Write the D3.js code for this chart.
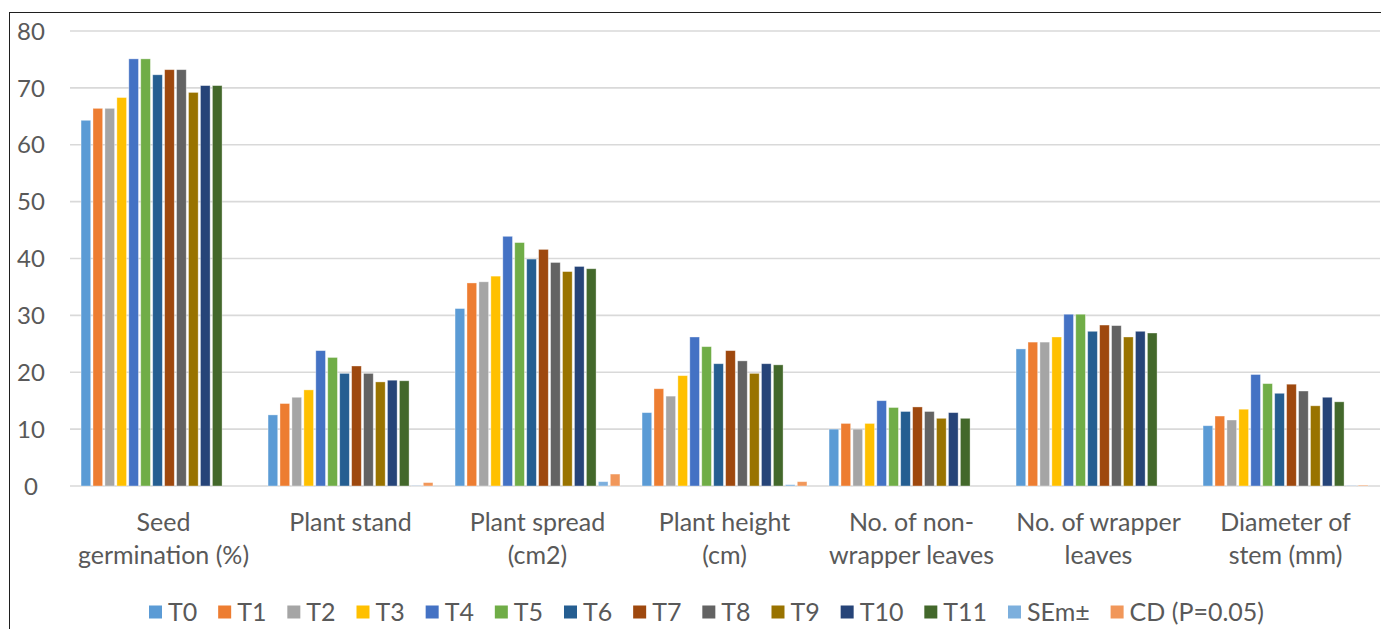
<!DOCTYPE html>
<html><head><meta charset="utf-8">
<script src="https://cdn.jsdelivr.net/npm/d3@7"></script>
<style>html,body{margin:0;padding:0;background:#fff;overflow:hidden}</style>
</head><body>
<svg id="chart" width="1381" height="629"></svg>
<script>
const categories = ["Seed germination (%)","Plant stand","Plant spread (cm2)","Plant height (cm)","No. of non-wrapper leaves","No. of wrapper leaves","Diameter of stem (mm)"];
const categoryLines = [["Seed","germination (%)"],["Plant stand"],["Plant spread","(cm2)"],["Plant height","(cm)"],["No. of non-","wrapper leaves"],["No. of wrapper","leaves"],["Diameter of","stem (mm)"]];
const seriesNames = ["T0","T1","T2","T3","T4","T5","T6","T7","T8","T9","T10","T11","SEm±","CD (P=0.05)"];
const seriesColors = ["#5B9BD5","#ED7D31","#A5A5A5","#FFC000","#4472C4","#70AD47","#255E91","#9E480E","#636363","#997300","#264478","#43682B","#7CAFDD","#F1975A"];
const T0  = [64.3,12.5,31.2,12.9,10.0,24.1,10.6];
const T1  = [66.4,14.5,35.7,17.1,11.0,25.3,12.3];
const T2  = [66.4,15.6,35.9,15.8,10.0,25.3,11.6];
const T3  = [68.3,16.9,36.9,19.4,11.0,26.2,13.5];
const T4  = [75.1,23.8,43.9,26.2,15.0,30.2,19.6];
const T5  = [75.1,22.6,42.8,24.5,13.8,30.2,18.0];
const T6  = [72.3,19.8,39.9,21.5,13.1,27.2,16.3];
const T7  = [73.2,21.1,41.6,23.8,13.9,28.3,17.9];
const T8  = [73.2,19.8,39.3,22.0,13.1,28.2,16.7];
const T9  = [69.2,18.3,37.7,19.8,11.9,26.2,14.1];
const T10 = [70.4,18.6,38.6,21.5,12.9,27.2,15.6];
const T11 = [70.4,18.5,38.2,21.3,11.9,26.9,14.8];
const SEm = [0,0.05,0.76,0.23,0,0,0.05];
const CD  = [0,0.6,2.1,0.76,0,0,0.15];
const seriesValues = [T0,T1,T2,T3,T4,T5,T6,T7,T8,T9,T10,T11,SEm,CD];
const yTicks = [0,10,20,30,40,50,60,70,80];

const FONT = "Lato, 'Open Sans', sans-serif";
const TXT = "#595959";
const svg = d3.select("#chart");

// frame
svg.append("rect").attr("x",9.5).attr("y",12.5).attr("width",1500).attr("height",800)
  .attr("fill","none").attr("stroke","#1f1f1f").attr("stroke-width",1);

const plotL = 70, plotR = 1379, plotT = 31, plotB = 486;
const y = d3.scaleLinear().domain([0,80]).range([plotB, plotT]);
const x0 = d3.scaleBand().domain(categories).range([plotL,plotR]).padding(0);
const bw = x0.bandwidth();
const x1 = d3.scaleBand().domain(seriesNames).range([bw*0.053, bw*0.947]).paddingInner(0.19).paddingOuter(0.095);

// gridlines
svg.append("g").selectAll("line").data(yTicks).join("line")
  .attr("x1",plotL).attr("x2",plotR+1)
  .attr("y1",d=>y(d)).attr("y2",d=>y(d))
  .attr("stroke","#d9d9d9").attr("stroke-width",1.6);

// y labels
svg.append("g").selectAll("text").data(yTicks).join("text")
  .attr("x",31).attr("y",d=>y(d)).attr("dy","0.36em")
  .attr("text-anchor","middle").attr("font-family",FONT).attr("font-size",24)
  .attr("fill",TXT).text(d=>d);

// bars
const groups = svg.append("g").selectAll("g").data(categories).join("g")
  .attr("transform",d=>`translate(${x0(d)},0)`);
groups.selectAll("rect").data((c,ci)=>seriesNames.map((s,si)=>({s,si,v:seriesValues[si][ci]})).filter(d=>d.v>0))
  .join("rect")
  .attr("x",d=>x1(d.s)).attr("width",x1.bandwidth())
  .attr("y",d=>y(d.v)).attr("height",d=>plotB-y(d.v))
  .attr("fill",d=>seriesColors[d.si])
  .attr("stroke","#ffffff").attr("stroke-opacity",0.45).attr("stroke-width",0.8);

// category labels
const cl = svg.append("g").selectAll("text").data(categories).join("text")
  .attr("text-anchor","middle").attr("font-family",FONT).attr("font-size",25).attr("fill",TXT);
cl.each(function(c,i){
  const t = d3.select(this);
  categoryLines[i].forEach((ln,k)=>{
    t.append("tspan").attr("x",x0(c)+bw/2).attr("y",522+k*33).attr("dy","0.36em").text(ln);
  });
});

// legend
const lg = svg.append("g");
const items = lg.selectAll("g").data(seriesNames).join("g");
items.append("rect").attr("width",13).attr("height",13).attr("y",605.5).attr("fill",(d,i)=>seriesColors[i]);
items.append("text").attr("x",19).attr("y",612).attr("dy","0.36em")
  .attr("font-family",FONT).attr("font-size",25).attr("fill",TXT).text(d=>d);
const widths = [];
items.each(function(){ widths.push(19 + d3.select(this).select("text").node().getComputedTextLength()); });
const startX = 149, endX = 1264;
const sum = d3.sum(widths);
const gap = (endX - startX - sum)/(seriesNames.length-1);
let cx = startX;
items.each(function(d,i){ d3.select(this).attr("transform",`translate(${cx},0)`); cx += widths[i]+gap; });
</script>
</body></html>
